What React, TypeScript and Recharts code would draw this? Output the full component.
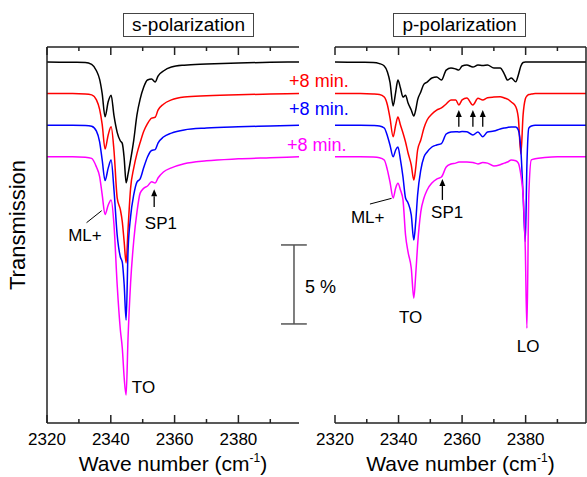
import React from 'react';
import { LineChart, Line, XAxis, YAxis, ReferenceLine, ReferenceDot, Label } from 'recharts';

const FONT = '"Liberation Sans", Arial, Helvetica, sans-serif';
const AXIS = '#222222';
const W = 587;
const H = 477;

// ---------- data: s-polarization panel ----------
const sWave = [2320, 2328, 2332, 2334, 2335.5, 2336.5, 2337.3, 2338.2, 2339.2, 2340.1, 2341, 2342, 2343, 2343.6, 2344.2, 2344.8, 2345.4, 2346.2, 2347.2, 2348.2, 2349.2, 2350.3, 2351.5, 2352.8, 2353.9, 2354.8, 2356.5, 2359, 2363, 2370, 2380, 2390, 2399];
const sBlack = [100.0, 99.98, 99.97, 99.85, 99.45, 98.9, 98.0, 96.54, 97.5, 97.9, 96.6, 95.55, 95.0, 94.85, 93.9, 92.36, 92.9, 93.8, 95.06, 96.65, 97.65, 98.4, 98.86, 98.92, 98.73, 99.11, 99.43, 99.68, 99.8, 99.87, 99.94, 99.98, 100.0];
const sRed = [98.0, 98.0, 97.98, 97.92, 97.6, 97.0, 96.05, 94.5, 95.4, 95.9, 94.4, 91.4, 90.65, 89.9, 88.6, 87.28, 89.4, 92.0, 93.3, 94.2, 94.9, 95.6, 96.1, 96.45, 96.5, 96.95, 97.33, 97.6, 97.78, 97.86, 97.93, 97.97, 98.0];
const sBlue = [96.0, 96.0, 95.98, 95.93, 95.63, 94.95, 93.8, 92.5, 93.3, 93.8, 91.9, 89.05, 87.66, 87.34, 85.89, 83.67, 88.0, 90.2, 91.6, 92.4, 92.6, 93.3, 93.99, 94.4, 94.45, 94.87, 95.25, 95.5, 95.7, 95.82, 95.9, 95.95, 96.0];
const sMagenta = [94.0, 94.0, 93.97, 93.9, 93.35, 92.75, 91.6, 90.35, 90.95, 91.27, 89.7, 85.9, 83.04, 81.9, 80.0, 78.92, 82.5, 86.0, 88.7, 90.5, 91.7, 92.0, 92.15, 92.42, 92.34, 92.66, 93.04, 93.3, 93.56, 93.75, 93.87, 93.94, 94.0];

// ---------- data: p-polarization panel ----------
const pWave = [2320, 2328, 2332, 2334, 2335.5, 2336.5, 2337.3, 2338.3, 2339.1, 2339.8, 2340.6, 2341.4, 2342.2, 2343, 2344, 2344.8, 2345.4, 2346, 2347, 2348, 2349, 2350.5, 2352, 2353.5, 2355, 2356.5, 2358, 2359, 2360, 2361.5, 2363.4, 2365, 2366.5, 2368, 2370, 2372, 2373.3, 2374.3, 2375.5, 2376.9, 2377.7, 2378.5, 2379.2, 2379.9, 2380.4, 2381, 2381.8, 2383, 2386, 2390, 2399];
const pBlack = [100.0, 99.98, 99.97, 99.9, 99.75, 99.37, 98.73, 97.22, 98.1, 98.86, 98.35, 97.78, 97.9, 97.4, 96.96, 96.58, 96.96, 97.6, 98.1, 98.6, 98.73, 98.99, 99.05, 98.86, 99.49, 99.62, 99.56, 99.49, 99.75, 99.81, 99.68, 99.81, 99.78, 99.81, 99.62, 99.62, 99.24, 98.86, 98.99, 98.75, 99.18, 99.75, 99.97, 100.0, 100.0, 100.0, 100.0, 100.0, 100.0, 100.0, 100.0];
const pRed = [98.0, 98.0, 97.98, 97.95, 97.78, 97.28, 96.46, 95.27, 96.01, 96.52, 96.01, 95.51, 94.94, 94.24, 93.48, 92.53, 93.29, 94.43, 95.06, 95.82, 96.33, 96.71, 96.96, 97.09, 97.34, 97.6, 97.6, 97.28, 97.6, 97.72, 97.28, 97.7, 97.6, 97.74, 97.78, 97.8, 97.72, 97.65, 97.47, 97.17, 96.46, 94.18, 96.65, 97.66, 97.85, 97.94, 97.97, 98.0, 98.0, 98.0, 98.0];
const pBlue = [96.0, 96.0, 95.98, 95.95, 95.82, 95.32, 94.75, 94.0, 94.43, 94.62, 93.8, 92.72, 91.39, 91.08, 90.32, 88.73, 89.87, 91.58, 93.16, 93.99, 94.3, 94.62, 94.75, 94.84, 95.44, 95.57, 95.59, 95.57, 95.6, 95.59, 95.38, 95.57, 95.27, 95.57, 95.63, 95.76, 95.82, 95.86, 95.89, 95.89, 95.7, 94.43, 91.58, 88.63, 93.48, 95.82, 95.95, 96.0, 96.0, 96.0, 96.0];
const pMagenta = [94.0, 94.0, 93.98, 93.94, 93.8, 93.16, 92.41, 91.39, 92.03, 92.32, 91.9, 91.27, 89.05, 87.97, 86.96, 85.06, 86.52, 88.42, 90.51, 91.39, 91.9, 92.34, 92.59, 92.72, 93.35, 93.54, 93.6, 93.67, 93.67, 93.67, 93.64, 93.55, 93.64, 93.6, 93.42, 93.5, 93.6, 93.67, 93.8, 93.75, 93.6, 92.85, 91.58, 88.1, 83.15, 91.58, 93.8, 93.87, 93.95, 94.0, 94.0];

// ---------- axes ----------
const waveTicks = [2320, 2330, 2340, 2350, 2360, 2370, 2380, 2390];
const waveDomain: [number, number] = [2320, 2399];
const transDomain: [number, number] = [77.15, 100.95];
const timeLabels = ['+8 min.', '+8 min.', '+8 min.'];

const seriesDefs = [
  { key: 'black', color: '#000000' },
  { key: 'red', color: '#ff0000' },
  { key: 'blue', color: '#0000ff' },
  { key: 'magenta', color: '#ff00ff' },
];

const buildRows = (wave: number[], k: number[], r: number[], b: number[], m: number[]) =>
  wave.map((w, i) => ({ w, black: k[i], red: r[i], blue: b[i], magenta: m[i] }));

const sRows = buildRows(sWave, sBlack, sRed, sBlue, sMagenta);
const pRows = buildRows(pWave, pBlack, pRed, pBlue, pMagenta);

const BottomTick = (props: any) => {
  const { x, y, payload } = props;
  const v = payload.value;
  const major = v % 20 === 0;
  return (
    <g>
      <line x1={x} x2={x} y1={y} y2={y - (major ? 8 : 4)} stroke={AXIS} strokeWidth={1.5} />
      {major && (
        <text x={x} y={y + 22} textAnchor="middle" fontSize={17} fontFamily={FONT} fill="#000">
          {v}
        </text>
      )}
    </g>
  );
};

const TopTick = (props: any) => {
  const { x, y, payload } = props;
  const major = payload.value % 20 === 0;
  return <line x1={x} x2={x} y1={y} y2={y + (major ? 8 : 4)} stroke={AXIS} strokeWidth={1.5} />;
};

const xTitle = (p: any) => {
  const vb = p.viewBox;
  return (
    <text x={vb.x + vb.width / 2} y={vb.y + 48} textAnchor="middle" fontSize={21} fontFamily={FONT} fill="#000">
      Wave number (cm
      <tspan fontSize={12} dy={-9}>-1</tspan>
      <tspan dy={9}>)</tspan>
    </text>
  );
};

const yTitle = (p: any) => {
  const vb = p.viewBox;
  const x = vb.x + vb.width - 22;
  const y = vb.y + vb.height / 2 - 10;
  return (
    <text x={x} y={y} transform={`rotate(-90, ${x}, ${y})`} textAnchor="middle" fontSize={22} fontFamily={FONT} fill="#000">
      Transmission
    </text>
  );
};

const textShape = (text: string, color: string, size: number, anchor: string = 'middle') => (p: any) => (
  <text x={p.cx} y={p.cy} dy="0.35em" textAnchor={anchor} fill={color} fontSize={size} fontFamily={FONT}>
    {text}
  </text>
);

const ArrowShape = (p: any) => {
  const { x1, y1, x2, y2 } = p;
  const dx = x2 - x1;
  const dy = y2 - y1;
  const len = Math.hypot(dx, dy) || 1;
  const ux = dx / len;
  const uy = dy / len;
  const hl = 7;
  const hw = 3;
  const bx = x2 - ux * hl;
  const by = y2 - uy * hl;
  return (
    <g>
      <line x1={x1} y1={y1} x2={bx} y2={by} stroke="#000" strokeWidth={1.3} />
      <polygon points={`${x2},${y2} ${bx - uy * hw},${by + ux * hw} ${bx + uy * hw},${by - ux * hw}`} fill="#000" />
    </g>
  );
};

const seriesLines = seriesDefs.map((s) => (
  <Line
    key={s.key}
    xAxisId="b"
    dataKey={s.key}
    stroke={s.color}
    strokeWidth={1.5}
    dot={false}
    type="monotone"
    isAnimationActive={false}
  />
));

const commonAxes = (rightSide: boolean) => [
  <XAxis
    key="xb"
    xAxisId="b"
    dataKey="w"
    type="number"
    domain={waveDomain}
    ticks={waveTicks}
    interval={0}
    allowDataOverflow
    height={1}
    tickSize={0}
    tickMargin={0}
    tickLine={false}
    tick={<BottomTick />}
    axisLine={{ stroke: AXIS, strokeWidth: 1.5 }}
  >
    <Label content={xTitle} />
  </XAxis>,
  <XAxis
    key="xt"
    xAxisId="t"
    orientation="top"
    dataKey="w"
    type="number"
    domain={waveDomain}
    ticks={waveTicks}
    interval={0}
    allowDataOverflow
    height={1}
    tickSize={0}
    tickMargin={0}
    tickLine={false}
    tick={<TopTick />}
    axisLine={{ stroke: AXIS, strokeWidth: 1.5 }}
  />,
  <YAxis
    key="y"
    type="number"
    orientation={rightSide ? 'right' : 'left'}
    domain={transDomain}
    allowDataOverflow
    width={1}
    tick={false}
    tickLine={false}
    axisLine={{ stroke: AXIS, strokeWidth: 1.5 }}
  >
    {!rightSide && <Label content={yTitle} />}
  </YAxis>,
];

const Title = ({ left, width, text }: { left: number; width: number; text: string }) => (
  <div
    style={{
      position: 'absolute',
      left,
      top: 13,
      width,
      height: 24,
      boxSizing: 'border-box',
      border: '1px solid #444',
      fontFamily: FONT,
      fontSize: 19,
      display: 'flex',
      alignItems: 'center',
      justifyContent: 'center',
      color: '#000',
    }}
  >
    {text}
  </div>
);

export default function App() {
  return (
    <div style={{ position: 'absolute', left: 0, top: 0, width: W, height: H, background: '#fff', overflow: 'hidden' }}>
      <div style={{ position: 'absolute', left: 0, top: 0 }}>
        <LineChart width={W} height={H} data={sRows} margin={{ top: 46, left: 46, right: 288, bottom: 53 }}>
          {commonAxes(false)}
          {seriesLines}
          {/* time labels */}
          <ReferenceDot xAxisId="b" x={2395.9} y={98.81} r={0} ifOverflow="visible" shape={textShape(timeLabels[0], '#ff0000', 18, 'start')} />
          <ReferenceDot xAxisId="b" x={2395.9} y={97.07} r={0} ifOverflow="visible" shape={textShape(timeLabels[1], '#0000ff', 18, 'start')} />
          <ReferenceDot xAxisId="b" x={2395.2} y={94.75} r={0} ifOverflow="visible" shape={textShape(timeLabels[2], '#ff00ff', 18, 'start')} />
          {/* scale bar */}
          <ReferenceLine xAxisId="b" ifOverflow="visible" segment={[{ x: 2397.43, y: 88.42 }, { x: 2397.43, y: 83.42 }]} stroke="#555" strokeWidth={1.5} />
          <ReferenceLine xAxisId="b" ifOverflow="visible" segment={[{ x: 2393.35, y: 88.42 }, { x: 2401.45, y: 88.42 }]} stroke="#555" strokeWidth={1.5} />
          <ReferenceLine xAxisId="b" ifOverflow="visible" segment={[{ x: 2393.35, y: 83.42 }, { x: 2401.45, y: 83.42 }]} stroke="#555" strokeWidth={1.5} />
          <ReferenceDot xAxisId="b" x={2400.9} y={85.75} r={0} ifOverflow="visible" shape={textShape('5 %', '#000', 18, 'start')} />
          {/* annotations */}
          <ReferenceLine xAxisId="b" ifOverflow="visible" segment={[{ x: 2332.4, y: 89.83 }, { x: 2337.15, y: 90.59 }]} stroke="#000" strokeWidth={1} />
          <ReferenceDot xAxisId="b" x={2331.9} y={89.05} r={0} ifOverflow="visible" shape={textShape('ML+', '#000', 17)} />
          <ReferenceLine xAxisId="b" ifOverflow="visible" segment={[{ x: 2353.6, y: 90.82 }, { x: 2353.6, y: 91.95 }]} shape={ArrowShape} />
          <ReferenceDot xAxisId="b" x={2355.7} y={89.81} r={0} ifOverflow="visible" shape={textShape('SP1', '#000', 17)} />
          <ReferenceDot xAxisId="b" x={2350.25} y={79.43} r={0} ifOverflow="visible" shape={textShape('TO', '#000', 17)} />
        </LineChart>
      </div>
      <div style={{ position: 'absolute', left: 0, top: 0 }}>
        <LineChart width={W} height={H} data={pRows} margin={{ top: 46, left: 335, right: 0, bottom: 53 }}>
          {commonAxes(true)}
          {seriesLines}
          <ReferenceLine xAxisId="b" ifOverflow="visible" segment={[{ x: 2331.0, y: 91.01 }, { x: 2337.8, y: 91.37 }]} stroke="#000" strokeWidth={1} />
          <ReferenceDot xAxisId="b" x={2330.3} y={90.19} r={0} ifOverflow="visible" shape={textShape('ML+', '#000', 17)} />
          <ReferenceLine xAxisId="b" ifOverflow="visible" segment={[{ x: 2353.8, y: 91.27 }, { x: 2353.8, y: 92.6 }]} shape={ArrowShape} />
          <ReferenceDot xAxisId="b" x={2355.3} y={90.51} r={0} ifOverflow="visible" shape={textShape('SP1', '#000', 17)} />
          <ReferenceLine xAxisId="b" ifOverflow="visible" segment={[{ x: 2358.97, y: 95.9 }, { x: 2358.97, y: 96.96 }]} shape={ArrowShape} />
          <ReferenceLine xAxisId="b" ifOverflow="visible" segment={[{ x: 2363.4, y: 95.9 }, { x: 2363.4, y: 96.96 }]} shape={ArrowShape} />
          <ReferenceLine xAxisId="b" ifOverflow="visible" segment={[{ x: 2366.5, y: 95.9 }, { x: 2366.5, y: 96.96 }]} shape={ArrowShape} />
          <ReferenceDot xAxisId="b" x={2343.8} y={83.86} r={0} ifOverflow="visible" shape={textShape('TO', '#000', 17)} />
          <ReferenceDot xAxisId="b" x={2380.8} y={82.03} r={0} ifOverflow="visible" shape={textShape('LO', '#000', 17)} />
        </LineChart>
      </div>
      <Title left={123} width={131} text="s-polarization" />
      <Title left={393} width={133} text="p-polarization" />
    </div>
  );
}
